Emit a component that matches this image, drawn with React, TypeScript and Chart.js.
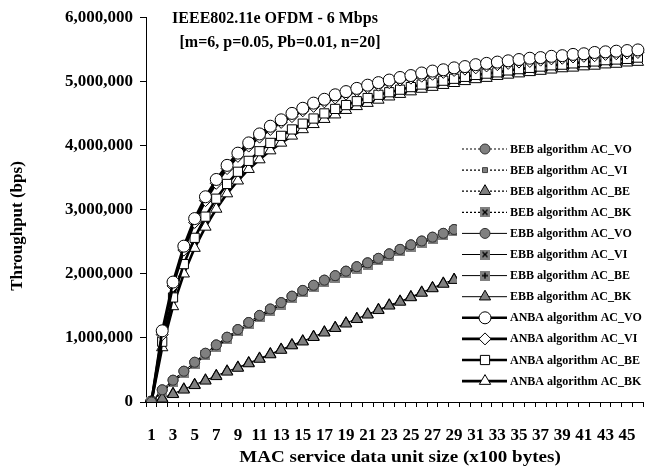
import React, { useEffect, useRef } from 'react';
import { Chart, registerables } from 'chart.js';
import { drawPoint } from 'chart.js/helpers';

Chart.register(...registerables);

const FONT = "'Liberation Serif', 'Times New Roman', serif";

const categories = ['1','2','3','4','5','6','7','8','9','10','11','12','13','14','15','16','17','18','19','20','21','22','23','24','25','26','27','28','29','30','31','32','33','34','35','36','37','38','39','40','41','42','43','44','45','46'];

const titleLines = ['IEEE802.11e OFDM - 6 Mbps', '[m=6, p=0.05, Pb=0.01, n=20]'];
const xAxisTitle = 'MAC service data unit size (x100 bytes)';
const yAxisTitle = 'Throughput (bps)';
const yTickValues = [0, 1000000, 2000000, 3000000, 4000000, 5000000, 6000000];

// values in Mbps (multiplied by 1e6 when building datasets)
const bebVO = [0, 0.19, 0.34, 0.48, 0.62, 0.76, 0.89, 1.01, 1.13, 1.24, 1.35, 1.45, 1.55, 1.65, 1.74, 1.82, 1.90, 1.97, 2.04, 2.11, 2.17, 2.24, 2.31, 2.38, 2.45, 2.51, 2.57, 2.63, 2.69, 2.75, 2.81, 2.86, 2.92, 2.97, 3.02, 3.07, 3.12, 3.17, 3.22, 3.26, 3.31, 3.35, 3.39, 3.44, 3.48, 3.52];
const bebVI = [0, 0.16, 0.31, 0.45, 0.59, 0.73, 0.86, 0.98, 1.10, 1.21, 1.32, 1.42, 1.52, 1.62, 1.71, 1.79, 1.87, 1.94, 2.01, 2.08, 2.14, 2.21, 2.28, 2.35, 2.42, 2.48, 2.54, 2.60, 2.66, 2.72, 2.78, 2.83, 2.89, 2.94, 2.99, 3.04, 3.09, 3.14, 3.19, 3.23, 3.28, 3.32, 3.36, 3.41, 3.45, 3.49];
const bebBE = [0, 0.05, 0.12, 0.19, 0.26, 0.33, 0.40, 0.47, 0.53, 0.60, 0.67, 0.74, 0.81, 0.88, 0.94, 1.01, 1.08, 1.15, 1.22, 1.29, 1.36, 1.43, 1.50, 1.56, 1.63, 1.70, 1.77, 1.84, 1.90, 1.96, 2.03, 2.09, 2.16, 2.22, 2.29, 2.35, 2.42, 2.48, 2.55, 2.61, 2.67, 2.74, 2.80, 2.86, 2.92, 2.98];
const bebBK = [0, 0.16, 0.31, 0.45, 0.59, 0.73, 0.86, 0.98, 1.10, 1.21, 1.32, 1.42, 1.52, 1.62, 1.71, 1.79, 1.87, 1.94, 2.01, 2.08, 2.14, 2.21, 2.28, 2.35, 2.42, 2.48, 2.54, 2.60, 2.66, 2.72, 2.78, 2.83, 2.89, 2.94, 2.99, 3.04, 3.09, 3.14, 3.19, 3.23, 3.28, 3.32, 3.36, 3.41, 3.45, 3.49];
const ebbVO = [0, 0.19, 0.34, 0.48, 0.62, 0.76, 0.89, 1.01, 1.13, 1.24, 1.35, 1.45, 1.55, 1.65, 1.74, 1.82, 1.90, 1.97, 2.04, 2.11, 2.17, 2.24, 2.31, 2.38, 2.45, 2.51, 2.57, 2.63, 2.69, 2.75, 2.81, 2.86, 2.92, 2.97, 3.02, 3.07, 3.12, 3.17, 3.22, 3.26, 3.31, 3.35, 3.39, 3.44, 3.48, 3.52];
const ebbVI = [0, 0.16, 0.31, 0.45, 0.59, 0.73, 0.86, 0.98, 1.10, 1.21, 1.32, 1.42, 1.52, 1.62, 1.71, 1.79, 1.87, 1.94, 2.01, 2.08, 2.14, 2.21, 2.28, 2.35, 2.42, 2.48, 2.54, 2.60, 2.66, 2.72, 2.78, 2.83, 2.89, 2.94, 2.99, 3.04, 3.09, 3.14, 3.19, 3.23, 3.28, 3.32, 3.36, 3.41, 3.45, 3.49];
const ebbBE = [0, 0.16, 0.31, 0.45, 0.59, 0.73, 0.86, 0.98, 1.10, 1.21, 1.32, 1.42, 1.52, 1.62, 1.71, 1.79, 1.87, 1.94, 2.01, 2.08, 2.14, 2.21, 2.28, 2.35, 2.42, 2.48, 2.54, 2.60, 2.66, 2.72, 2.78, 2.83, 2.89, 2.94, 2.99, 3.04, 3.09, 3.14, 3.19, 3.23, 3.28, 3.32, 3.36, 3.41, 3.45, 3.49];
const ebbBK = [0, 0.06, 0.13, 0.20, 0.27, 0.34, 0.41, 0.48, 0.54, 0.61, 0.68, 0.75, 0.82, 0.89, 0.95, 1.02, 1.09, 1.16, 1.23, 1.30, 1.37, 1.44, 1.51, 1.57, 1.64, 1.71, 1.78, 1.85, 1.91, 1.97, 2.04, 2.10, 2.17, 2.23, 2.30, 2.36, 2.43, 2.49, 2.56, 2.62, 2.68, 2.75, 2.81, 2.87, 2.93, 2.99];
const anbaVO = [0, 1.11, 1.87, 2.43, 2.86, 3.20, 3.47, 3.69, 3.88, 4.04, 4.18, 4.30, 4.40, 4.50, 4.58, 4.66, 4.72, 4.79, 4.84, 4.89, 4.94, 4.98, 5.02, 5.06, 5.09, 5.13, 5.16, 5.18, 5.21, 5.23, 5.26, 5.28, 5.30, 5.32, 5.34, 5.36, 5.37, 5.39, 5.40, 5.42, 5.43, 5.45, 5.46, 5.47, 5.48, 5.49];
const anbaVI = [0, 1.05, 1.81, 2.37, 2.80, 3.14, 3.41, 3.64, 3.83, 3.99, 4.13, 4.25, 4.36, 4.45, 4.54, 4.61, 4.68, 4.74, 4.80, 4.85, 4.90, 4.94, 4.98, 5.02, 5.05, 5.08, 5.11, 5.14, 5.17, 5.19, 5.21, 5.24, 5.26, 5.28, 5.30, 5.31, 5.33, 5.35, 5.36, 5.38, 5.39, 5.40, 5.42, 5.43, 5.44, 5.45];
const anbaBE = [0, 0.94, 1.63, 2.15, 2.56, 2.89, 3.17, 3.40, 3.59, 3.76, 3.91, 4.04, 4.15, 4.25, 4.34, 4.42, 4.50, 4.57, 4.63, 4.69, 4.74, 4.79, 4.83, 4.87, 4.91, 4.95, 4.98, 5.01, 5.04, 5.07, 5.10, 5.12, 5.14, 5.17, 5.19, 5.21, 5.23, 5.25, 5.26, 5.28, 5.30, 5.31, 5.33, 5.34, 5.35, 5.37];
const anbaBK = [0, 0.85, 1.49, 2.00, 2.40, 2.73, 3.01, 3.25, 3.45, 3.63, 3.78, 3.92, 4.04, 4.15, 4.25, 4.33, 4.41, 4.48, 4.55, 4.61, 4.66, 4.71, 4.76, 4.80, 4.84, 4.88, 4.91, 4.94, 4.97, 5.00, 5.03, 5.05, 5.08, 5.10, 5.12, 5.14, 5.16, 5.18, 5.20, 5.21, 5.23, 5.24, 5.26, 5.27, 5.29, 5.30];

const seriesNames = [
  'BEB algorithm AC_VO', 'BEB algorithm AC_VI', 'BEB algorithm AC_BE', 'BEB algorithm AC_BK',
  'EBB algorithm AC_VO', 'EBB algorithm AC_VI', 'EBB algorithm AC_BE', 'EBB algorithm AC_BK',
  'ANBA algorithm AC_VO', 'ANBA algorithm AC_VI', 'ANBA algorithm AC_BE', 'ANBA algorithm AC_BK',
];
const seriesValues = [bebVO, bebVI, bebBE, bebBK, ebbVO, ebbVI, ebbBE, ebbBK, anbaVO, anbaVI, anbaBE, anbaBK];

function makeSquareMark(kind: 'x' | '+', size: number) {
  const c = document.createElement('canvas');
  c.width = size;
  c.height = size;
  const g = c.getContext('2d')!;
  g.fillStyle = '#808080';
  g.fillRect(0, 0, size, size);
  g.strokeStyle = '#000';
  g.lineWidth = 1.4;
  g.beginPath();
  if (kind === 'x') {
    g.moveTo(2.5, 2.5); g.lineTo(size - 2.5, size - 2.5);
    g.moveTo(size - 2.5, 2.5); g.lineTo(2.5, size - 2.5);
  } else {
    g.moveTo(size / 2, 2); g.lineTo(size / 2, size - 2);
    g.moveTo(2, size / 2); g.lineTo(size - 2, size / 2);
  }
  g.stroke();
  return c;
}

const textPlugin = {
  id: 'customText',
  afterDraw(chart: any) {
    const ctx = chart.ctx;
    ctx.save();
    ctx.fillStyle = '#000';
    ctx.textAlign = 'center';
    ctx.textBaseline = 'middle';
    ctx.font = `bold 16px ${FONT}`;
    ctx.fillText(titleLines[0], 275, 19);
    ctx.fillText(titleLines[1], 280, 43);
    ctx.font = `bold 17px ${FONT}`;
    ctx.save();
    ctx.translate(400, 458);
    ctx.scale(1.12, 1);
    ctx.fillText(xAxisTitle, 0, 0);
    ctx.restore();
    ctx.translate(18, 226);
    ctx.rotate(-Math.PI / 2);
    ctx.fillText(yAxisTitle, 0, 0);
    ctx.restore();
  },
};

const legendPlugin = {
  id: 'customLegend',
  afterDraw(chart: any) {
    const ctx = chart.ctx;
    const area = chart.chartArea;
    ctx.save();
    ctx.fillStyle = '#fff';
    ctx.fillRect(457, 137, area.right + 4 - 457, 256);
    chart.data.datasets.forEach((ds: any, i: number) => {
      const y = 149 + i * 21.1;
      ctx.save();
      ctx.strokeStyle = ds.borderColor;
      ctx.lineWidth = ds.borderWidth;
      ctx.setLineDash(ds.borderDash || []);
      ctx.beginPath();
      ctx.moveTo(462, y);
      ctx.lineTo(507, y);
      ctx.stroke();
      ctx.setLineDash([]);
      ctx.fillStyle = ds.pointBackgroundColor;
      ctx.strokeStyle = ds.pointBorderColor;
      ctx.lineWidth = ds.pointBorderWidth;
      drawPoint(ctx, { pointStyle: ds.pointStyle, rotation: 0, radius: ds.pointRadius, borderWidth: ds.pointBorderWidth }, 485, y);
      ctx.restore();
      ctx.fillStyle = '#000';
      ctx.font = `bold 12px ${FONT}`;
      ctx.textAlign = 'left';
      ctx.textBaseline = 'middle';
      ctx.fillText(ds.label, 510, y + 0.5);
    });
    ctx.restore();
  },
};

export default function App() {
  const ref = useRef<HTMLCanvasElement>(null);
  useEffect(() => {
    const xMark = makeSquareMark('x', 10);
    const plusMark = makeSquareMark('+', 10);
    const styles: any[] = [
      { dash: [2, 2], w: 1.2, ps: 'circle', r: 5, bg: '#808080', bc: '#333', bw: 1 },
      { dash: [2, 2], w: 1.2, ps: 'rect', r: 3.5, bg: '#808080', bc: '#404040', bw: 1 },
      { dash: [2, 2], w: 1.2, ps: 'triangle', r: 6.5, bg: '#808080', bc: '#000', bw: 1 },
      { dash: [2, 2], w: 1.2, ps: xMark, r: 5, bg: '#808080', bc: '#000', bw: 1 },
      { dash: [], w: 1, ps: 'circle', r: 5, bg: '#808080', bc: '#333', bw: 1 },
      { dash: [], w: 1, ps: xMark, r: 5, bg: '#808080', bc: '#000', bw: 1 },
      { dash: [], w: 1, ps: plusMark, r: 5, bg: '#808080', bc: '#000', bw: 1 },
      { dash: [], w: 1, ps: 'triangle', r: 6.5, bg: '#808080', bc: '#000', bw: 1 },
      { dash: [], w: 2.6, ps: 'circle', r: 6, bg: '#fff', bc: '#000', bw: 1 },
      { dash: [], w: 2.6, ps: 'rectRot', r: 6, bg: '#fff', bc: '#000', bw: 1 },
      { dash: [], w: 2.6, ps: 'rect', r: 6.5, bg: '#fff', bc: '#000', bw: 1 },
      { dash: [], w: 2.6, ps: 'triangle', r: 6.5, bg: '#fff', bc: '#000', bw: 1 },
    ];
    const datasets = seriesNames.map((name, i) => ({
      label: name,
      data: seriesValues[i].map((v) => v * 1000000),
      borderColor: '#000',
      borderWidth: styles[i].w,
      borderDash: styles[i].dash,
      pointStyle: styles[i].ps,
      pointRadius: styles[i].r,
      pointBackgroundColor: styles[i].bg,
      pointBorderColor: styles[i].bc,
      pointBorderWidth: styles[i].bw,
      tension: 0,
      fill: false,
    }));
    const tickFont = { family: FONT, size: 17, weight: 'bold' as const };
    const chart = new Chart(ref.current!, {
      type: 'line',
      data: { labels: categories, datasets },
      options: {
        animation: false,
        responsive: false,
        devicePixelRatio: 1,
        events: [],
        layout: { padding: { top: 12, left: 0, right: 4, bottom: 0 } },
        plugins: { legend: { display: false }, tooltip: { enabled: false }, title: { display: false } },
        scales: {
          x: {
            type: 'category',
            offset: true,
            grid: { offset: true, drawOnChartArea: false, drawTicks: true, tickLength: 5, color: '#000', lineWidth: 1 },
            border: { display: true, color: '#000', width: 1 },
            ticks: {
              autoSkip: false,
              maxRotation: 0,
              minRotation: 0,
              padding: 18,
              color: '#000',
              font: tickFont,
              callback: (_v: any, i: number) => (i % 2 === 0 ? categories[i] : ''),
            },
            afterFit: (s: any) => { s.height = 71; },
          },
          y: {
            min: 0,
            max: 6000000,
            afterBuildTicks: (s: any) => { s.ticks = yTickValues.map((v) => ({ value: v })); },
            ticks: {
              padding: 7,
              color: '#000',
              font: tickFont,
              callback: (v: any) => Number(v).toLocaleString('en-US'),
            },
            grid: { drawOnChartArea: false, drawTicks: true, tickLength: 6, color: '#000' },
            border: { display: true, color: '#000', width: 1 },
            afterFit: (s: any) => { s.width = 146; },
          },
        },
      },
      plugins: [legendPlugin, textPlugin],
    });
    return () => chart.destroy();
  }, []);
  return (
    <div style={{ position: 'fixed', left: 0, top: 0, width: 649, height: 473, overflow: 'hidden', background: '#fff' }}>
      <canvas ref={ref} width={656} height={473} style={{ display: 'block', width: 656, height: 473 }} />
    </div>
  );
}
